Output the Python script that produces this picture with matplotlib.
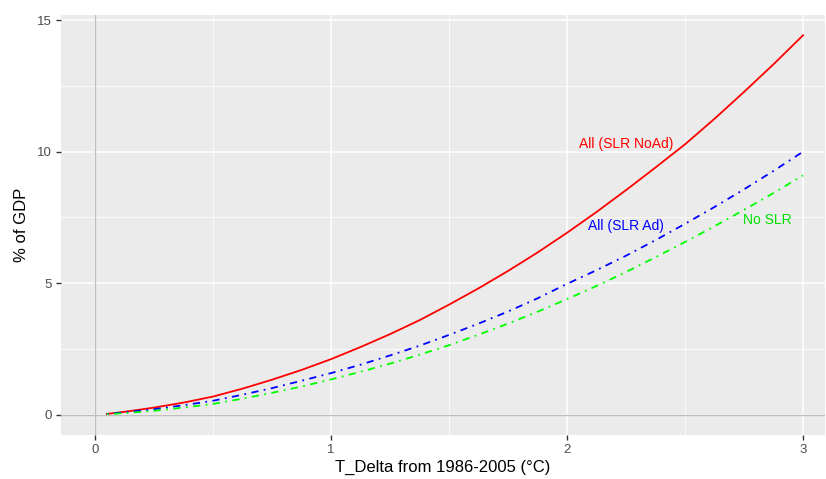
import matplotlib
matplotlib.use("Agg")
import matplotlib.pyplot as plt

plt.rcParams['font.family'] = ['Liberation Sans', 'DejaVu Sans']

# temperature change and damage estimates (% of GDP)
t_delta = [0.05, 0.125, 0.25, 0.375, 0.5, 0.625, 0.75, 0.875, 1.0, 1.125, 1.25,
           1.375, 1.5, 1.625, 1.75, 1.875, 2.0, 2.125, 2.25, 2.375, 2.5, 2.625,
           2.75, 2.875, 3.0]
all_slr_noad = [0.04, 0.12, 0.28, 0.47, 0.7, 1.0, 1.34, 1.71, 2.12, 2.58, 3.07,
                3.6, 4.19, 4.81, 5.47, 6.17, 6.92, 7.71, 8.54, 9.4, 10.28, 11.25,
                12.27, 13.32, 14.42]
all_slr_ad = [0.04, 0.1, 0.22, 0.37, 0.54, 0.77, 1.02, 1.3, 1.59, 1.91, 2.26,
              2.63, 3.04, 3.47, 3.93, 4.43, 4.98, 5.5, 6.05, 6.64, 7.26, 7.9,
              8.57, 9.27, 10.0]
no_slr = [0.03, 0.07, 0.16, 0.28, 0.42, 0.62, 0.84, 1.08, 1.35, 1.64, 1.95,
          2.29, 2.65, 3.05, 3.47, 3.92, 4.4, 4.9, 5.43, 5.99, 6.57, 7.17, 7.79,
          8.43, 9.1]

labels = ["All (SLR NoAd)", "All (SLR Ad)", "No SLR"]
label_pos = [(2.25, 10.3), (2.25, 7.16), (2.85, 7.42)]
colors = ["#FF0000", "#0000FF", "#00E000"]

fig = plt.figure(figsize=(8.26, 4.79), dpi=100)
ax = fig.add_axes([61 / 826, 1 - 435 / 479, 764 / 826, 420 / 479])
ax.set_facecolor("#EBEBEB")
for s in ax.spines.values():
    s.set_visible(False)

ax.set_xlim(-0.144, 3.093)
ax.set_ylim(-0.76, 15.19)
ax.set_xticks([0, 1, 2, 3])
ax.set_yticks([0, 5, 10, 15])
ax.set_xticks([0.5, 1.5, 2.5], minor=True)
ax.set_yticks([2.5, 7.5, 12.5], minor=True)
ax.grid(which="major", color="white", linewidth=1.1)
ax.grid(which="minor", color="white", linewidth=0.55)
ax.set_axisbelow(True)
ax.tick_params(which="major", length=3.5, width=1, color="#333333",
               labelsize=9.5, labelcolor="#4D4D4D", pad=3)
ax.tick_params(which="minor", length=0)

ax.axhline(0, color="#BEBEBE", linewidth=1.0, zorder=1)
ax.axvline(0, color="#BEBEBE", linewidth=1.0, zorder=1)

dd = (1, 3, 4, 3)
ax.plot(t_delta, all_slr_noad, color="#FF0000", linewidth=1.3, zorder=3)
ax.plot(t_delta, all_slr_ad, color="#0000FF", linewidth=1.3, zorder=3,
        linestyle=(0, dd))
ax.plot(t_delta, no_slr, color="#00FF00", linewidth=1.3, zorder=3,
        linestyle=(0, dd))

for lab, (x, y), c in zip(labels, label_pos, colors):
    ax.text(x, y, lab, color=c, fontsize=10, ha="center", va="center")

ax.set_xlabel("T_Delta from 1986-2005 (°C)", fontsize=12, labelpad=3)
ax.set_ylabel("% of GDP", fontsize=12, labelpad=6)

fig.savefig("out.png", dpi=100)
